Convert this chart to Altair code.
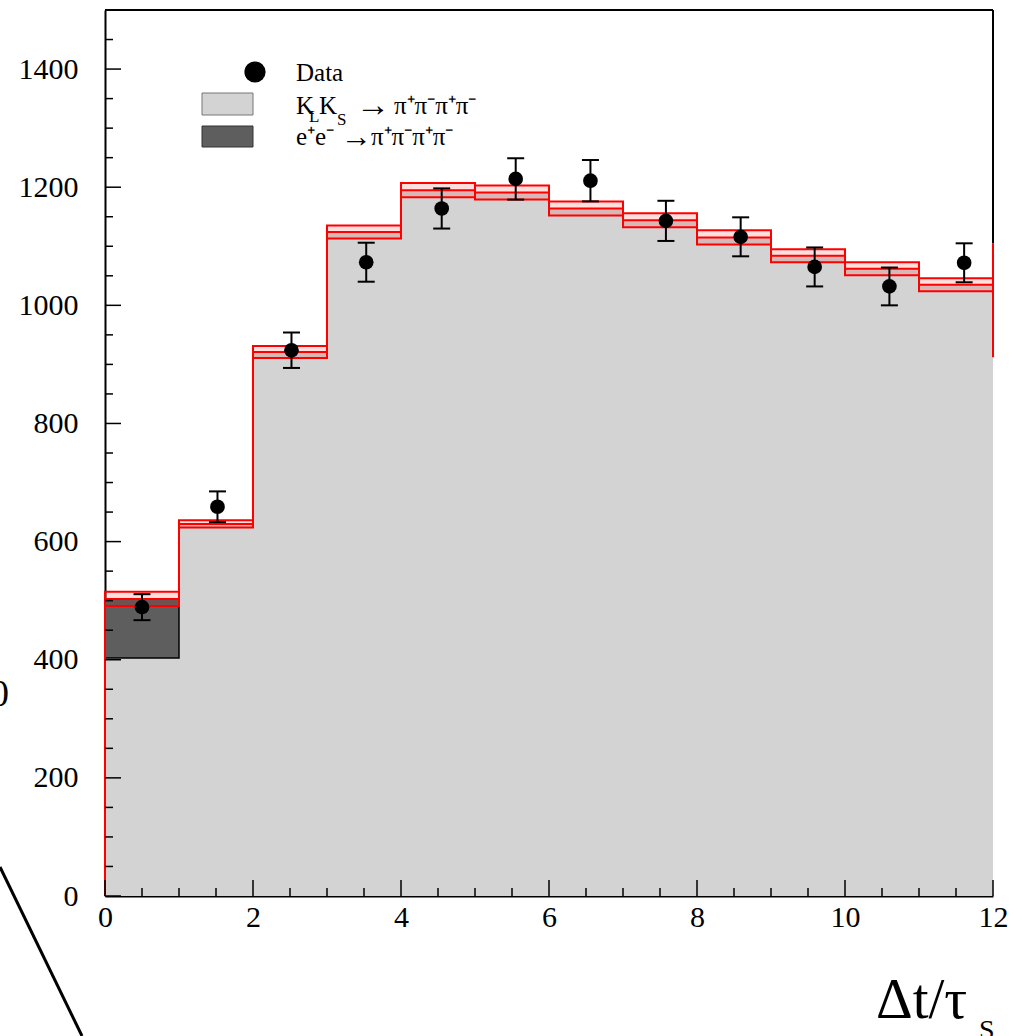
import altair as alt
import pandas as pd

SERIF = "Liberation Serif"

# ---------------- data ----------------
bin_lo = [0, 1, 2, 3, 4, 5, 6, 7, 8, 9, 10, 11]
bin_hi = [1, 2, 3, 4, 5, 6, 7, 8, 9, 10, 11, 12]
mc_total = [503, 630, 921, 1124, 1195, 1191, 1164, 1144, 1115, 1084, 1062, 1035]
mc_err = [12, 6, 10, 11, 12, 12, 12, 12, 12, 11, 11, 11]
ee_part = [100, 0, 0, 0, 0, 0, 0, 0, 0, 0, 0, 0]

data_x = [0.5, 1.52, 2.52, 3.53, 4.55, 5.55, 6.56, 7.58, 8.59, 9.59, 10.6, 11.61]
data_y = [489, 659, 924, 1073, 1164, 1214, 1211, 1143, 1116, 1065, 1032, 1072]
data_err = [22, 26, 30, 33, 34, 35, 35, 34, 33, 33, 32, 33]

x_labels = [0, 2, 4, 6, 8, 10, 12]
x_minor = [0.5, 1, 1.5, 2.5, 3, 3.5, 4.5, 5, 5.5, 6.5, 7, 7.5, 8.5, 9, 9.5, 10.5, 11, 11.5]
y_labels = [0, 200, 400, 600, 800, 1000, 1200, 1400]
y_minor = [v for v in range(50, 1500, 50) if v % 200 != 0]

right_red = [912, 1105]

# ---------------- tables ----------------
mc = pd.DataFrame({
    "lo": bin_lo, "hi": bin_hi, "total": mc_total, "err": mc_err, "ee": ee_part,
})
mc["klks"] = mc["total"] - mc["ee"]
mc["base"] = 0
mc["blo"] = mc["total"] - mc["err"]
mc["bhi"] = mc["total"] + mc["err"]

step_rows = [{"o": 0, "x": 0, "y": 0}]
k = 1
for lo, hi, t in zip(bin_lo, bin_hi, mc_total):
    step_rows.append({"o": k, "x": lo, "y": t}); k += 1
    step_rows.append({"o": k, "x": hi, "y": t}); k += 1
step = pd.DataFrame(step_rows)

dat = pd.DataFrame({"x": data_x, "y": data_y, "e": data_err})
dat["lo"] = dat["y"] - dat["e"]
dat["hi"] = dat["y"] + dat["e"]

W, H = 888, 886
xs = alt.Scale(domain=[0, 12], nice=False, zero=False)
ys = alt.Scale(domain=[0, 1500], nice=False, zero=True)

xaxis = alt.Axis(values=x_labels, labelFont=SERIF, labelFontSize=30, labelColor="black",
                 ticks=False, domainColor="black", domainWidth=2, grid=False, title=None,
                 labelPadding=6, labelFlush=False, labelOverlap=False, format="d")
yaxis = alt.Axis(values=y_labels, labelFont=SERIF, labelFontSize=30, labelColor="black",
                 ticks=False, domainColor="black", domainWidth=2, grid=False, title=None,
                 labelPadding=27, labelFlush=False, labelOverlap=False, format="d")


def X(f):
    return alt.X(f, scale=xs, axis=xaxis)


def Y(f):
    return alt.Y(f, scale=ys, axis=yaxis)


light = alt.Chart(mc).mark_rect(color="#d3d3d3").encode(
    x=X("lo:Q"), x2="hi:Q", y=Y("klks:Q"), y2="base:Q")

dark = alt.Chart(mc).transform_filter("datum.ee > 0").mark_rect(
    color="#5e5e5e", stroke="black", strokeWidth=1.5).encode(
    x=X("lo:Q"), x2="hi:Q", y=Y("klks:Q"), y2="total:Q")

band = alt.Chart(mc).mark_rect(fill="#ff0000", fillOpacity=0.13, stroke="#ff0000",
                               strokeWidth=2).encode(
    x=X("lo:Q"), x2="hi:Q", y=Y("blo:Q"), y2="bhi:Q")

stepline = alt.Chart(step).mark_line(color="#ff0000", strokeWidth=2).encode(
    x=X("x:Q"), y=Y("y:Q"), order="o:Q")

ymaj = alt.Chart(pd.DataFrame({"v": y_labels})).mark_rule(color="black", strokeWidth=1.5).encode(
    y=Y("v:Q"), x=alt.value(0), x2=alt.value(16))
ymin = alt.Chart(pd.DataFrame({"v": y_minor})).mark_rule(color="black", strokeWidth=1.5).encode(
    y=Y("v:Q"), x=alt.value(0), x2=alt.value(8))
xmaj = alt.Chart(pd.DataFrame({"v": x_labels})).mark_rule(color="black", strokeWidth=1.5).encode(
    x=X("v:Q"), y=alt.value(H), y2=alt.value(H - 16))
xmin = alt.Chart(pd.DataFrame({"v": x_minor})).mark_rule(color="black", strokeWidth=1.5).encode(
    x=X("v:Q"), y=alt.value(H), y2=alt.value(H - 8))

one = alt.Data(values=[{"a": 1}])

top = alt.Chart(one).mark_rule(color="black", strokeWidth=2).encode(
    x=alt.value(0), x2=alt.value(W), y=alt.value(0))
right = alt.Chart(one).mark_rule(color="black", strokeWidth=2).encode(
    x=alt.value(W), y=alt.value(0), y2=alt.value(H - right_red[1] * H / 1500))
right_r = alt.Chart(one).mark_rule(color="#ff0000", strokeWidth=2).encode(
    x=alt.value(W), y=alt.value(H - right_red[0] * H / 1500),
    y2=alt.value(H - right_red[1] * H / 1500))

ebar = alt.Chart(dat).mark_rule(color="black", strokeWidth=2).encode(
    x=X("x:Q"), y=Y("lo:Q"), y2="hi:Q")
cap_lo = alt.Chart(dat).mark_tick(color="black", orient="horizontal", size=17, thickness=2,
                                  opacity=1).encode(x=X("x:Q"), y=Y("lo:Q"))
cap_hi = alt.Chart(dat).mark_tick(color="black", orient="horizontal", size=17, thickness=2,
                                  opacity=1).encode(x=X("x:Q"), y=Y("hi:Q"))
pts = alt.Chart(dat).mark_circle(color="black", opacity=1, size=215).encode(
    x=X("x:Q"), y=Y("y:Q"))


def txt(s, x, y, size=25, align="left", baseline="alphabetic"):
    return alt.Chart(one).mark_text(text=s, font=SERIF, fontSize=size, color="black",
                                    align=align, baseline=baseline).encode(
        x=alt.value(x), y=alt.value(y))


def box(x1, x2, y1, y2, fill, stroke):
    return alt.Chart(one).mark_rect(fill=fill, stroke=stroke, strokeWidth=1).encode(
        x=alt.value(x1), x2=alt.value(x2), y=alt.value(y1), y2=alt.value(y2))


PI4 = "\u03c0\u207a\u03c0\u207b\u03c0\u207a\u03c0\u207b"
legend = [
    alt.Chart(one).mark_point(shape="circle", filled=True, color="black", opacity=1,
                              size=450).encode(x=alt.value(150), y=alt.value(62)),
    txt("Data", 191, 71),
    box(97, 148, 83, 105, "#d3d3d3", "#777777"),
    txt("K", 191, 104), txt("L", 204, 112, 17), txt("K", 214, 104), txt("S", 232, 115, 17),
    txt("\u2192", 251, 106, 34), txt(PI4, 289, 104),
    box(97, 148, 116, 137, "#5e5e5e", "#333333"),
    txt("e\u207ae\u207b", 191, 135), txt("\u2192", 236, 137, 31),
    txt(PI4, 266, 135),
]

xtitle = [txt("\u0394t/\u03c4", 771, 1008, 57), txt("S", 874, 1029, 28)]

artifacts = [
    alt.Chart(one).mark_rule(color="black", strokeWidth=3).encode(
        x=alt.value(-105), y=alt.value(857), x2=alt.value(-23), y2=alt.value(1026)),
    txt("0", -96, 685, 38, align="right", baseline="middle"),
]

chart = alt.layer(
    light, dark, band, stepline, right_r, top, right,
    ymaj, ymin, xmaj, xmin, ebar, cap_lo, cap_hi, pts,
    *legend, *xtitle, *artifacts,
).properties(
    width=W, height=H,
    padding={"left": 105, "top": 10, "right": 33, "bottom": 140},
    autosize=alt.AutoSizeParams(type="none"),
).configure_view(stroke=None)

chart.save("out.html", embed_options={"renderer": "svg", "actions": False})
